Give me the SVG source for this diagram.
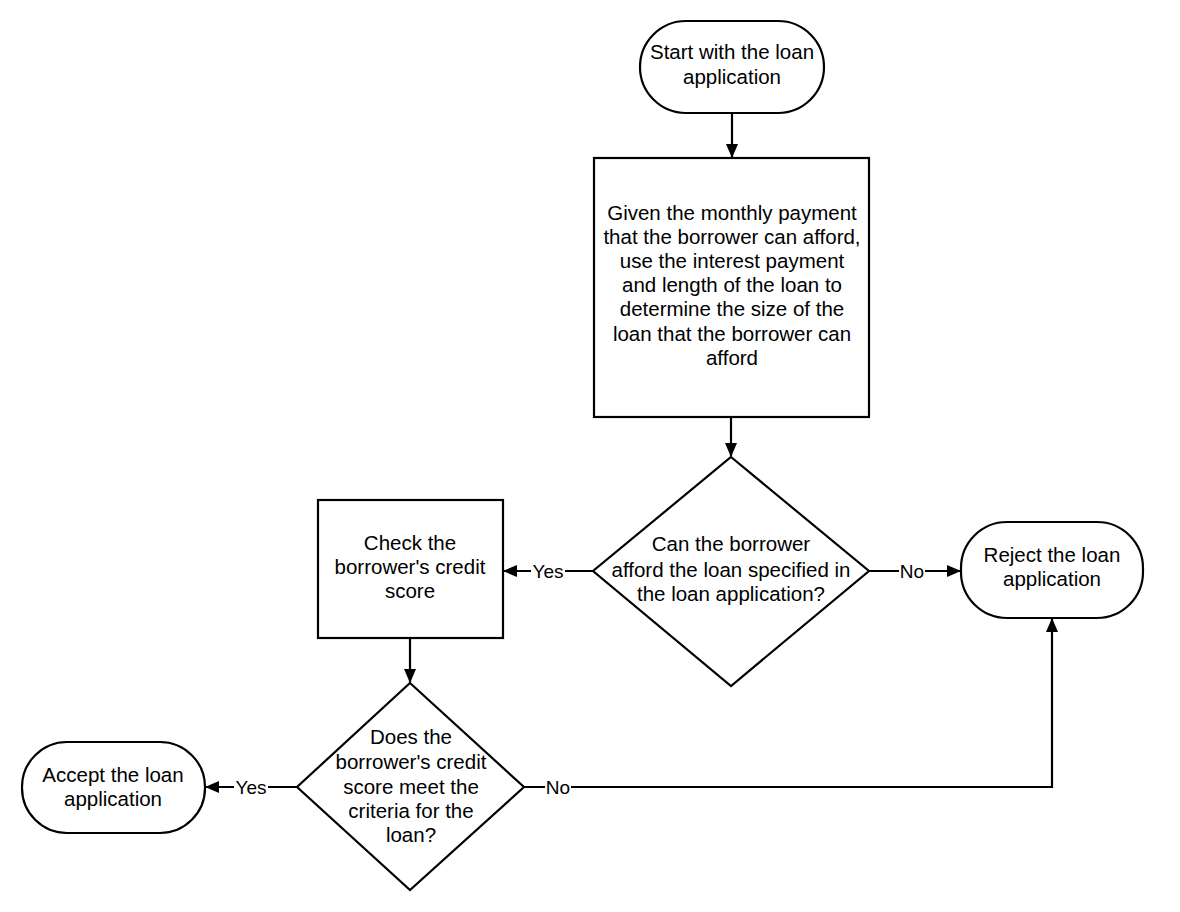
<svg xmlns="http://www.w3.org/2000/svg" width="1180" height="912" viewBox="0 0 1180 912">
<defs>
<marker id="arr" markerWidth="14" markerHeight="12" refX="13" refY="6" orient="auto" markerUnits="userSpaceOnUse">
<path d="M0,0 L14,6 L0,12 Z" fill="#000"/>
</marker>
<style>
.shape{fill:#fff;stroke:#000;stroke-width:2.2}
.t{font-family:"Liberation Sans",Arial,sans-serif;font-size:20.5px;fill:#000;text-anchor:middle}
.lbl{font-family:"Liberation Sans",Arial,sans-serif;font-size:19px;fill:#000;text-anchor:middle}
.c{fill:none;stroke:#000;stroke-width:2.2}
.lb{fill:#fff}
</style>
</defs>
<rect width="1180" height="912" fill="#fff"/>
<g id="connectors">
<line class="c" x1="732" y1="113" x2="732" y2="157" marker-end="url(#arr)"/>
<line class="c" x1="731" y1="417" x2="731" y2="456" marker-end="url(#arr)"/>
<line class="c" x1="593" y1="571" x2="504" y2="571" marker-end="url(#arr)"/>
<line class="c" x1="869" y1="571" x2="960" y2="571" marker-end="url(#arr)"/>
<line class="c" x1="410" y1="638" x2="410" y2="682" marker-end="url(#arr)"/>
<line class="c" x1="297" y1="787" x2="206" y2="787" marker-end="url(#arr)"/>
<polyline class="c" points="524,787 1052,787 1052,619" marker-end="url(#arr)"/>
<rect class="lb" x="531" y="560" width="34" height="22"/>
<text class="lbl" x="548" y="578">Yes</text>
<rect class="lb" x="899" y="560" width="26" height="22"/>
<text class="lbl" x="912" y="578">No</text>
<rect class="lb" x="234" y="776" width="34" height="22"/>
<text class="lbl" x="251" y="794">Yes</text>
<rect class="lb" x="545" y="776" width="26" height="22"/>
<text class="lbl" x="558" y="794">No</text>
</g>
<g id="start">
<rect class="shape" x="640" y="21" width="184" height="92" rx="46" ry="46"/>
<text class="t" x="732" y="59">Start with the loan</text>
<text class="t" x="732" y="84">application</text>
</g>
<g id="calc">
<rect class="shape" x="594" y="158" width="275" height="259"/>
<text class="t" x="732" y="220">Given the monthly payment</text>
<text class="t" x="732" y="244">that the borrower can afford,</text>
<text class="t" x="732" y="268">use the interest payment</text>
<text class="t" x="732" y="292">and length of the loan to</text>
<text class="t" x="732" y="316">determine the size of the</text>
<text class="t" x="732" y="341">loan that the borrower can</text>
<text class="t" x="732" y="365">afford</text>
</g>
<g id="afford">
<polygon class="shape" points="731,457 869,571 731,686 593,571"/>
<text class="t" x="731" y="551">Can the borrower</text>
<text class="t" x="731" y="577">afford the loan specified in</text>
<text class="t" x="731" y="601">the loan application?</text>
</g>
<g id="credit">
<rect class="shape" x="318" y="500" width="185" height="138"/>
<text class="t" x="410" y="550">Check the</text>
<text class="t" x="410" y="574">borrower's credit</text>
<text class="t" x="410" y="598">score</text>
</g>
<g id="reject">
<rect class="shape" x="961" y="522" width="182" height="96" rx="46" ry="46"/>
<text class="t" x="1052" y="562">Reject the loan</text>
<text class="t" x="1052" y="586">application</text>
</g>
<g id="criteria">
<polygon class="shape" points="410,683 524,787 410,890 297,787"/>
<text class="t" x="411" y="744">Does the</text>
<text class="t" x="411" y="769">borrower's credit</text>
<text class="t" x="411" y="794">score meet the</text>
<text class="t" x="411" y="818">criteria for the</text>
<text class="t" x="411" y="842">loan?</text>
</g>
<g id="accept">
<rect class="shape" x="22" y="742" width="183" height="91" rx="45" ry="45"/>
<text class="t" x="113" y="782">Accept the loan</text>
<text class="t" x="113" y="806">application</text>
</g>
</svg>
